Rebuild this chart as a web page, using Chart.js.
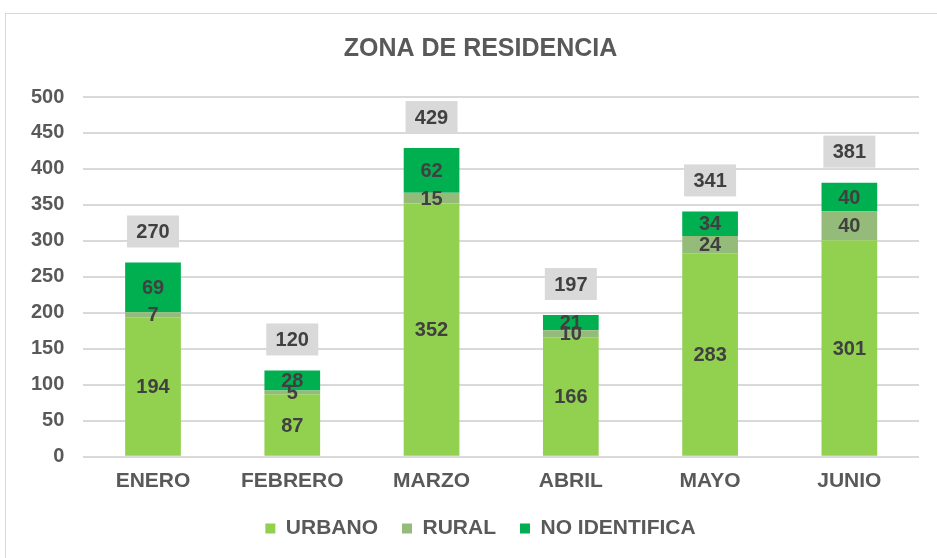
<!DOCTYPE html>
<html><head><meta charset="utf-8">
<script src="https://cdn.jsdelivr.net/npm/chart.js@4"></script>
<style>
html,body{margin:0;padding:0;background:#fff;}
#wrap{position:absolute;left:0;top:0;width:937px;height:558px;}
#frame{position:absolute;left:5px;top:13px;width:940px;height:560px;border:1px solid #d9d9d9;box-sizing:border-box;pointer-events:none;}
</style></head>
<body>
<div id="wrap"><canvas id="c" width="937" height="558"></canvas></div>
<div id="frame"></div>
<script>
const categories = ["ENERO","FEBRERO","MARZO","ABRIL","MAYO","JUNIO"];
const urbano = [194,87,352,166,283,301];
const rural = [7,5,15,10,24,40];
const noIdentifica = [69,28,62,21,34,40];
const totals = [270,120,429,197,341,381];
const seriesNames = ["URBANO","RURAL","NO IDENTIFICA"];

const FONT = "'Liberation Sans', Arial, sans-serif";

const labelPlugin = {
  id: 'labels',
  afterLayout(chart) {
    const dx = 15;
    [chart.titleBlock, chart.legend].forEach(b => {
      if (b) { b.left += dx; b.right += dx; }
    });
  },
  afterDatasetsDraw(chart) {
    const ctx = chart.ctx;
    ctx.save();
    ctx.font = "bold 20px " + FONT;
    ctx.textAlign = 'center';
    ctx.textBaseline = 'middle';
    chart.data.datasets.forEach((ds, di) => {
      const meta = chart.getDatasetMeta(di);
      meta.data.forEach((bar, i) => {
        const y = (bar.y + bar.base) / 2;
        ctx.fillStyle = '#404040';
        ctx.fillText(String(ds.data[i]), bar.x, y + 1);
      });
    });
    const yScale = chart.scales.y;
    const lastMeta = chart.getDatasetMeta(chart.data.datasets.length - 1);
    totals.forEach((t, i) => {
      const x = lastMeta.data[i].x;
      const y = yScale.getPixelForValue(t) - 31;
      const w = 52, h = 32;
      ctx.fillStyle = '#d9d9d9';
      ctx.fillRect(x - w / 2, y - h / 2, w, h);
      ctx.fillStyle = '#404040';
      ctx.fillText(String(t), x, y + 1);
    });
    ctx.restore();
  }
};

new Chart(document.getElementById('c'), {
  type: 'bar',
  data: {
    labels: categories,
    datasets: [
      {label: seriesNames[0], data: urbano, backgroundColor: '#92d050'},
      {label: seriesNames[1], data: rural, backgroundColor: '#95bb7a'},
      {label: seriesNames[2], data: noIdentifica, backgroundColor: '#00b050'}
    ]
  },
  options: {
    responsive: false,
    animation: false,
    devicePixelRatio: 1,
    layout: {padding: {top: 14, left: 12, right: 18, bottom: 19}},
    datasets: {bar: {categoryPercentage: 1, barPercentage: 0.4}},
    plugins: {
      title: {display: true, text: 'ZONA DE RESIDENCIA', color: '#595959',
        font: {family: FONT, size: 25, weight: 'bold'}, padding: {top: 20, bottom: 33}},
      legend: {position: 'bottom', maxHeight: 45,
        labels: {color: '#595959', font: {family: FONT, size: 21, weight: 'bold'},
          boxWidth: 10, boxHeight: 10, padding: 24}},
      tooltip: {enabled: false}
    },
    scales: {
      x: {stacked: true,
        grid: {display: false, drawTicks: false},
        border: {display: false},
        afterFit(scale) { scale.height -= 12; },
        ticks: {color: '#595959', font: {family: FONT, size: 21, weight: 'bold'}, padding: 12}},
      y: {stacked: true, min: 0, max: 500,
        grid: {color: '#d9d9d9', lineWidth: 2, drawTicks: false},
        border: {display: false},
        ticks: {stepSize: 50, color: '#595959', font: {family: FONT, size: 20, weight: 'bold'}, padding: 19}}
    }
  },
  plugins: [labelPlugin]
});
</script>
</body></html>
